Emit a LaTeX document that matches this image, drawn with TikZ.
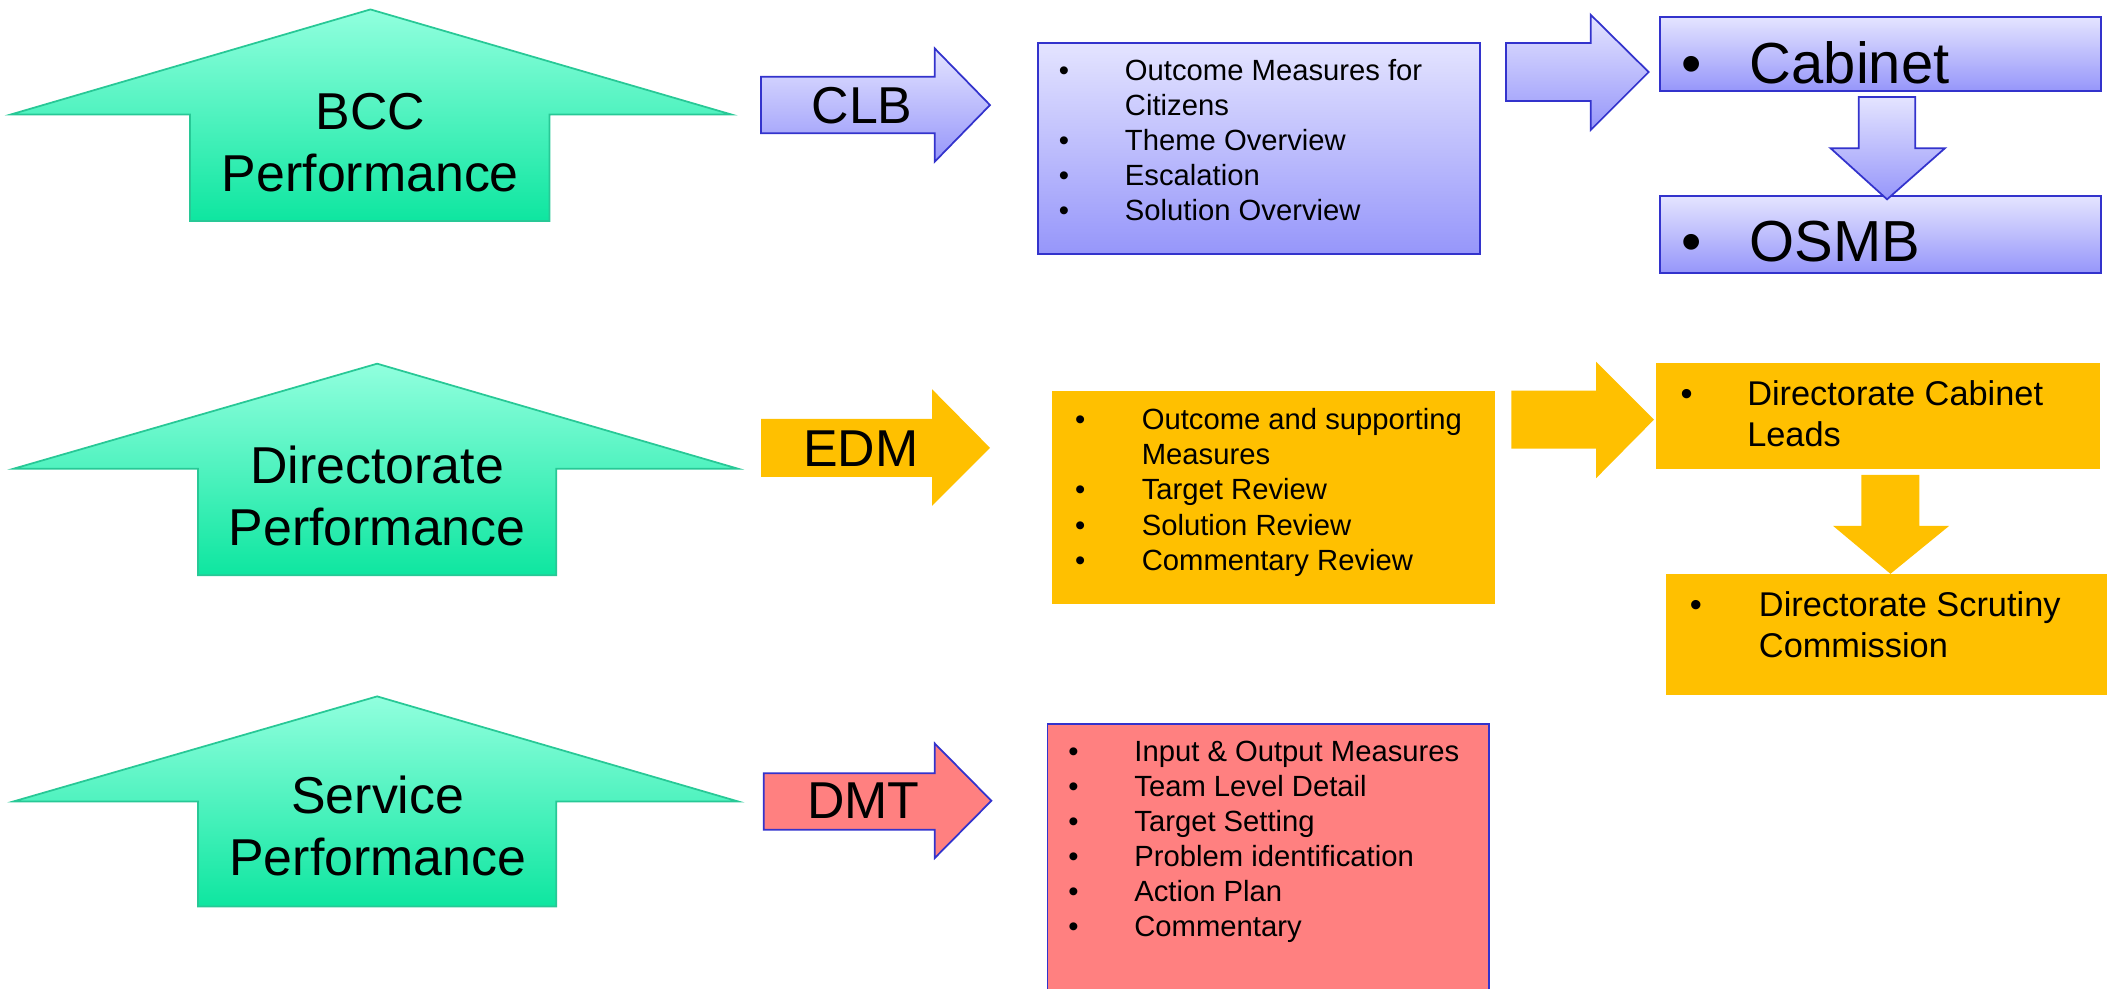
\documentclass[tikz,border=0pt]{standalone}
\usepackage{fontspec}
\setmainfont{Liberation Sans}
\definecolor{grnT}{RGB}{145,255,222}
\definecolor{grnD}{RGB}{14,230,160}
\definecolor{grnB}{RGB}{40,200,150}
\definecolor{bluT}{RGB}{228,228,255}
\definecolor{bluD}{RGB}{150,150,250}
\definecolor{bluB}{RGB}{51,51,204}
\definecolor{orng}{RGB}{255,192,0}
\definecolor{pinkr}{RGB}{255,128,128}
\begin{document}
\begin{tikzpicture}[x=1pt,y=-1pt,
  uparrow/.style={draw=grnB, line width=1.3pt, top color=grnT, bottom color=grnD},
  bluefill/.style={draw=bluB, line width=1.3pt, top color=bluT, bottom color=bluD},
  orangefill/.style={fill=orng},
  redfill/.style={fill=pinkr, draw=bluB, line width=1.3pt},
  box/.style={rectangle, anchor=north west, inner sep=0pt},
  bigtext/.style={font=\fontsize{38.5}{46}\selectfont, inner sep=0pt, anchor=base},
  listtext/.style={font=\fontsize{21.7}{26}\selectfont, inner sep=0pt, anchor=base west},
  midtext/.style={font=\fontsize{25.5}{30.5}\selectfont, inner sep=0pt, anchor=base west},
  hugetext/.style={font=\fontsize{43}{50}\selectfont, inner sep=0pt, anchor=base west}
]
\useasboundingbox (0,0) rectangle (1568,734);

% ---------- Row 1 ----------
\path[uparrow] (275,7) -- (543,85) -- (408,85) -- (408,164) -- (141,164) -- (141,85) -- (8,85) -- cycle;
\node[bigtext] (bcc) at (275,96.5) {\begin{tabular}[t]{@{}c@{}}BCC\\Performance\end{tabular}};

\path[bluefill] (565,57) -- (694,57) -- (694,36) -- (735,78) -- (694,120) -- (694,99) -- (565,99) -- cycle;
\node[bigtext] (clb) at (640,92) {CLB};

\node[box, bluefill, minimum width=328pt, minimum height=157pt] (b1) at (770,31) {};
\node[listtext] (l1) at (786,59.5) {\begin{tabular}[t]{@{}p{49pt}@{}l@{}}
•&Outcome Measures for\\ &Citizens\\ •&Theme Overview\\ •&Escalation\\ •&Solution Overview\end{tabular}};

\path[bluefill] (1118,32) -- (1181,32) -- (1181,11) -- (1224,53.5) -- (1181,96.5) -- (1181,75) -- (1118,75) -- cycle;

\node[box, bluefill, minimum width=327pt, minimum height=55pt] (cab) at (1232,12) {};
\node[hugetext] (cabt) at (1248,62) {\begin{tabular}[t]{@{}p{51pt}@{}l@{}}•&Cabinet\end{tabular}};

\node[box, bluefill, minimum width=327pt, minimum height=57pt] (osmb) at (1232,145) {};
\node[hugetext] (osmbt) at (1248,194.3) {\begin{tabular}[t]{@{}p{51pt}@{}l@{}}•&OSMB\end{tabular}};

\path[bluefill] (1380,72) -- (1422,72) -- (1422,110) -- (1444,110) -- (1401,148) -- (1359,110) -- (1380,110) -- cycle;

% ---------- Row 2 ----------
\path[uparrow] (280,270) -- (548,348) -- (413,348) -- (413,427) -- (147,427) -- (147,348) -- (10,348) -- cycle;
\node[bigtext] (dir) at (280,359) {\begin{tabular}[t]{@{}c@{}}Directorate\\Performance\end{tabular}};

\path[orangefill] (565,311) -- (692,311) -- (692,289) -- (735,332.5) -- (692,375.5) -- (692,354) -- (565,354) -- cycle;
\node[bigtext] (edm) at (639,346.5) {EDM};

\node[box, orangefill, minimum width=329pt, minimum height=158pt] (b2) at (781,290) {};
\node[listtext] (l2) at (798,319.2) {\begin{tabular}[t]{@{}p{49.5pt}@{}l@{}}
•&Outcome and supporting\\ &Measures\\ •&Target Review\\ •&Solution Review\\ •&Commentary Review\end{tabular}};

\path[orangefill] (1122,290) -- (1185,290) -- (1185,268.5) -- (1228,311.5) -- (1185,355) -- (1185,333) -- (1122,333) -- cycle;

\node[box, orangefill, minimum width=330pt, minimum height=79pt] (dcl) at (1229,269) {};
\node[midtext] (dclt) at (1247.5,301.2) {\begin{tabular}[t]{@{}p{49.5pt}@{}l@{}}•&Directorate Cabinet\\ &Leads\end{tabular}};

\path[orangefill] (1382,352.5) -- (1425,352.5) -- (1425,390.5) -- (1447,390.5) -- (1403.5,426) -- (1361,390.5) -- (1382,390.5) -- cycle;

\node[box, orangefill, minimum width=327pt, minimum height=90pt] (dsc) at (1237,426) {};
\node[midtext] (dsct) at (1254.3,457.8) {\begin{tabular}[t]{@{}p{51.4pt}@{}l@{}}•&Directorate Scrutiny\\ &Commission\end{tabular}};

% ---------- Row 3 ----------
\path[uparrow] (280,517) -- (548,595) -- (413,595) -- (413,673) -- (147,673) -- (147,595) -- (10,595) -- cycle;
\node[bigtext] (svc) at (280.5,604) {\begin{tabular}[t]{@{}c@{}}Service\\Performance\end{tabular}};

\path[redfill] (567,574) -- (694,574) -- (694,552) -- (736,594.5) -- (694,637) -- (694,616) -- (567,616) -- cycle;
\node[bigtext] (dmt) at (641,608) {DMT};

\node[box, redfill, minimum width=328pt, minimum height=203pt] (b3) at (777,537) {};
\node[listtext] (l3) at (793,565.5) {\begin{tabular}[t]{@{}p{49pt}@{}l@{}}
•&Input \& Output Measures\\ •&Team Level Detail\\ •&Target Setting\\ •&Problem identification\\ •&Action Plan\\ •&Commentary\end{tabular}};
\end{tikzpicture}
\end{document}
